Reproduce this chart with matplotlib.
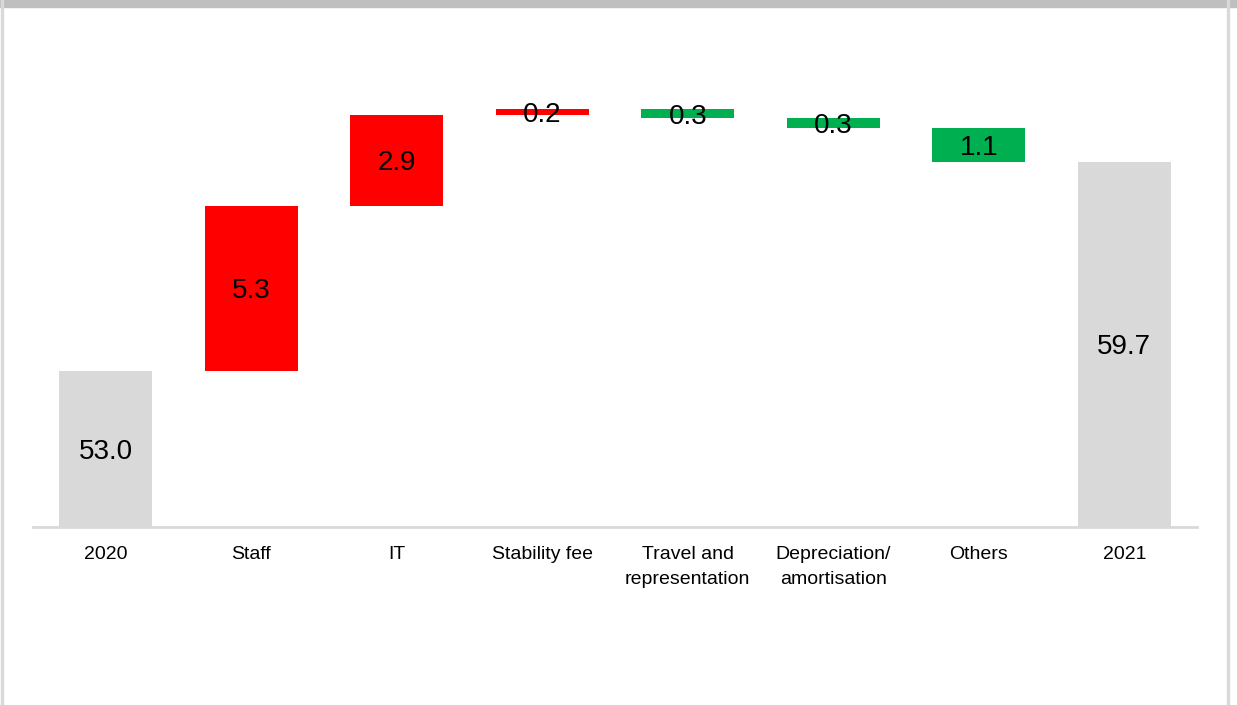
"""Waterfall chart: operating costs 2020 -> 2021."""

import matplotlib.pyplot as plt
import numpy as np
from matplotlib.patches import Rectangle

plt.rcParams["font.family"] = ["Liberation Sans", "DejaVu Sans"]

# Data
categories = ["2020", "Staff", "IT", "Stability fee", "Travel and\nrepresentation",
              "Depreciation/\namortisation", "Others", "2021"]
start_value = 53.0
deltas = [5.3, 2.9, 0.2, -0.3, -0.3, -1.1]
end_value = 59.7

GRAY = "#d9d9d9"
RED = "#ff0000"
GREEN = "#00b050"

fig = plt.figure(figsize=(12.37, 7.05), dpi=100)
ax = fig.add_axes([33 / 1237, (705 - 527) / 705, (1197 - 33) / 1237, (527 - 59) / 705])

x = np.arange(len(categories))
width = 0.64

# totals
ax.bar([0, 7], [start_value, end_value], width, color=GRAY)

# steps
levels = start_value + np.cumsum([0] + deltas)
for i, d in enumerate(deltas):
    lo = min(levels[i], levels[i + 1])
    color = RED if d > 0 else GREEN
    ax.bar(x[i + 1], abs(d), width, bottom=lo, color=color)
    ax.text(x[i + 1], lo + abs(d) / 2, f"{abs(d):.1f}", ha="center", va="center_baseline",
            fontsize=20, color="black")

ymin = 48.0
for xi, v in [(0, start_value), (7, end_value)]:
    ax.text(xi, ymin + (v - ymin) / 2, f"{v:.1f}", ha="center", va="center_baseline",
            fontsize=20, color="black")

ax.set_xlim(-0.5, 7.5)
ax.set_ylim(ymin, 63.0)
ax.set_xticks(x)
ax.set_xticklabels(categories, fontsize=14, linespacing=1.55)
ax.tick_params(axis="x", length=0, pad=14)
ax.set_yticks([])
for s in ["top", "right", "left"]:
    ax.spines[s].set_visible(False)
ax.spines["bottom"].set_color(GRAY)
ax.spines["bottom"].set_linewidth(2)

# outer frame
fig.patches.append(Rectangle((0, 1 - 7 / 705), 1, 7 / 705, transform=fig.transFigure,
                             color="#bfbfbf", zorder=0))
fig.patches.append(Rectangle((1 / 1237, 0), 2 / 1237, 1, transform=fig.transFigure,
                             color=GRAY, zorder=0))
fig.patches.append(Rectangle((1227 / 1237, 0), 2 / 1237, 1, transform=fig.transFigure,
                             color=GRAY, zorder=0))

fig.savefig("out.png", dpi=100)
plt.close(fig)
